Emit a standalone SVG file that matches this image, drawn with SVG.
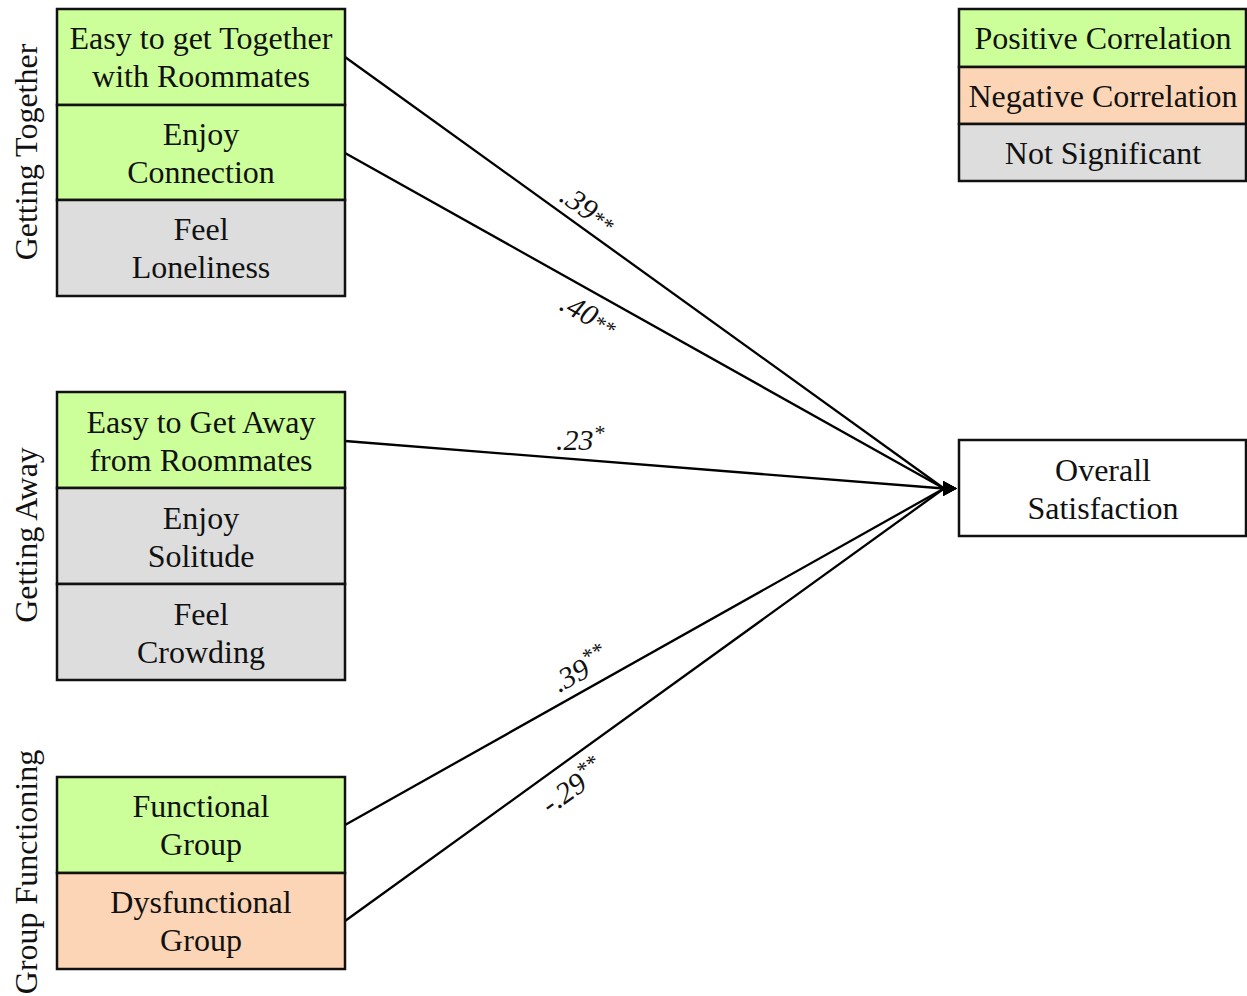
<svg xmlns="http://www.w3.org/2000/svg" width="1247" height="996" viewBox="0 0 1247 996">
<style>
  .box { stroke: #111; stroke-width: 2.5; }
  .pos { fill: #CCFF99; }
  .neg { fill: #FBD5B5; }
  .ns { fill: #DDDDDD; }
  .wh { fill: #FFFFFF; }
  .t { font-family: "Liberation Serif", "Times New Roman", serif; font-size: 32px; fill: #111; text-anchor: middle; }
  .grp { font-family: "Liberation Serif", "Times New Roman", serif; font-size: 32px; fill: #111; text-anchor: middle; }
  .lbl { font-family: "Liberation Serif", "Times New Roman", serif; font-size: 30px; font-style: italic; fill: #111; }
  .ast { font-size: 22px; }
  .conn { stroke: #000; stroke-width: 2.3; fill: none; marker-end: url(#arr); }
</style>
<defs>
  <marker id="arr" markerUnits="userSpaceOnUse" markerWidth="16" markerHeight="16" refX="1" refY="7.5" orient="0" overflow="visible">
    <path d="M0,0 L14,7.5 L0,15 z" fill="#000"/>
  </marker>
</defs>
<rect width="1247" height="996" fill="#fff"/>

<g id="connectors">
  <line class="conn" x1="345" y1="57" x2="944" y2="488.5"/>
  <line class="conn" x1="345" y1="153" x2="944" y2="488.5"/>
  <line class="conn" x1="345" y1="441" x2="944" y2="488.5"/>
  <line class="conn" x1="345" y1="825" x2="944" y2="488.5"/>
  <line class="conn" x1="345" y1="921" x2="944" y2="488.5"/>
  <text class="lbl" transform="translate(558,200) rotate(35.2)">.39<tspan class="ast">**</tspan></text>
  <text class="lbl" transform="translate(558,309) rotate(28.8)">.40<tspan class="ast">**</tspan></text>
  <text class="lbl" x="556" y="450">.23<tspan class="ast" dy="-10">*</tspan></text>
  <text class="lbl" transform="translate(559,693) rotate(-28.8)">.39<tspan class="ast" dy="-11">**</tspan></text>
  <text class="lbl" transform="translate(550,815) rotate(-35.2)">-.29<tspan class="ast" dy="-11">**</tspan></text>
</g>

<g id="group-getting-together">
  <text class="grp" transform="translate(37,152) rotate(-90)">Getting Together</text>
  <g id="easy-together">
    <rect class="box pos" x="57" y="9" width="288" height="96"/>
    <text class="t" x="201" y="49">Easy to get Together</text>
    <text class="t" x="201" y="87">with Roommates</text>
  </g>
  <g id="enjoy-connection">
    <rect class="box pos" x="57" y="105" width="288" height="95"/>
    <text class="t" x="201" y="145">Enjoy</text>
    <text class="t" x="201" y="183">Connection</text>
  </g>
  <g id="feel-loneliness">
    <rect class="box ns" x="57" y="200" width="288" height="96"/>
    <text class="t" x="201" y="240">Feel</text>
    <text class="t" x="201" y="278">Loneliness</text>
  </g>
</g>

<g id="group-getting-away">
  <text class="grp" transform="translate(37,535) rotate(-90)">Getting Away</text>
  <g id="easy-away">
    <rect class="box pos" x="57" y="392" width="288" height="96"/>
    <text class="t" x="201" y="433">Easy to Get Away</text>
    <text class="t" x="201" y="471">from Roommates</text>
  </g>
  <g id="enjoy-solitude">
    <rect class="box ns" x="57" y="488" width="288" height="96"/>
    <text class="t" x="201" y="529">Enjoy</text>
    <text class="t" x="201" y="567">Solitude</text>
  </g>
  <g id="feel-crowding">
    <rect class="box ns" x="57" y="584" width="288" height="96"/>
    <text class="t" x="201" y="625">Feel</text>
    <text class="t" x="201" y="663">Crowding</text>
  </g>
</g>

<g id="group-functioning">
  <text class="grp" transform="translate(37,872) rotate(-90)">Group Functioning</text>
  <g id="functional-group">
    <rect class="box pos" x="57" y="777" width="288" height="96"/>
    <text class="t" x="201" y="817">Functional</text>
    <text class="t" x="201" y="855">Group</text>
  </g>
  <g id="dysfunctional-group">
    <rect class="box neg" x="57" y="873" width="288" height="96"/>
    <text class="t" x="201" y="913">Dysfunctional</text>
    <text class="t" x="201" y="951">Group</text>
  </g>
</g>

<g id="overall-satisfaction">
  <rect class="box wh" x="959" y="440" width="287" height="96"/>
  <text class="t" x="1103" y="481">Overall</text>
  <text class="t" x="1103" y="519">Satisfaction</text>
</g>

<g id="legend">
  <g id="legend-positive">
    <rect class="box pos" x="959" y="9" width="287" height="58"/>
    <text class="t" x="1103" y="49">Positive Correlation</text>
  </g>
  <g id="legend-negative">
    <rect class="box neg" x="959" y="67" width="287" height="57"/>
    <text class="t" x="1103" y="107">Negative Correlation</text>
  </g>
  <g id="legend-ns">
    <rect class="box ns" x="959" y="124" width="287" height="57"/>
    <text class="t" x="1103" y="164">Not Significant</text>
  </g>
</g>
</svg>
